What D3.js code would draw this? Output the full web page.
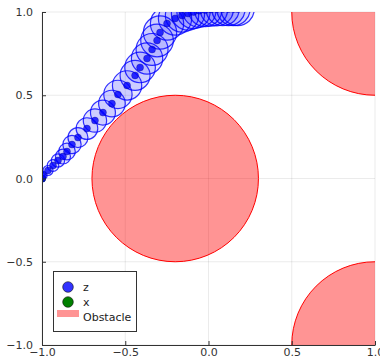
<!DOCTYPE html>
<html>
<head>
<meta charset="utf-8">
<script src="https://cdn.jsdelivr.net/npm/d3@7"></script>
<style>
  body { margin: 0; background: #fff; }
  svg { display: block; font-family: "DejaVu Sans", sans-serif; }
</style>
</head>
<body>
<svg id="chart" width="380" height="361"></svg>
<script>
// trajectory z (estimated), with uncertainty radius
const zX = [-1.0, -0.994, -0.964, -0.934, -0.904, -0.874, -0.850, -0.820, -0.784, -0.730, -0.682, -0.634, -0.580,
  -0.544, -0.489, -0.441, -0.411, -0.369, -0.339, -0.309, -0.291, -0.249, -0.201, -0.159, -0.123,
  -0.090, -0.055, -0.020, 0.015, 0.050, 0.085, 0.120, 0.150, 0.175];
const zY = [0.0, 0.018, 0.048, 0.078, 0.108, 0.132, 0.162, 0.204, 0.246, 0.300, 0.348, 0.396, 0.450,
  0.505, 0.559, 0.619, 0.667, 0.721, 0.775, 0.829, 0.877, 0.931, 0.961, 0.979, 0.991,
  1.000, 1.008, 1.012, 1.015, 1.017, 1.018, 1.018, 1.018, 1.018];
const zR = [0.02, 0.025, 0.03, 0.035, 0.04, 0.045, 0.05, 0.055, 0.06, 0.065, 0.07, 0.075, 0.08,
  0.085, 0.088, 0.09, 0.092, 0.094, 0.096, 0.098, 0.1, 0.1, 0.1, 0.1, 0.1,
  0.1, 0.1, 0.1, 0.1, 0.1, 0.1, 0.1, 0.1, 0.1];

// true state x
const xX = [-1.0];
const xY = [0.0];

// obstacles
const obsX = [-0.2, 1.0, 1.0];
const obsY = [0.0, 1.0, -1.0];
const obsR = [0.5, 0.5, 0.5];

const ticks = [-1.0, -0.5, 0.0, 0.5, 1.0];
const legendLabels = ['z', 'x', 'Obstacle'];

const svg = d3.select('#chart');
const m = { left: 42, right: 375, top: 12, bottom: 345 };
const x = d3.scaleLinear().domain([-1, 1]).range([m.left, m.right]);
const y = d3.scaleLinear().domain([-1, 1]).range([m.bottom, m.top]);
const fmt = d => d3.format('.1f')(d).replace('-', '\u2212');

svg.append('defs').append('clipPath').attr('id', 'clip')
  .append('rect').attr('x', m.left).attr('y', m.top)
  .attr('width', m.right - m.left).attr('height', m.bottom - m.top);

// grid
const grid = svg.append('g');
grid.selectAll('line.gx').data(ticks).join('line')
  .attr('x1', d => x(d)).attr('x2', d => x(d)).attr('y1', m.top).attr('y2', m.bottom)
  .attr('stroke', '#000').attr('stroke-opacity', 0.08);
grid.selectAll('line.gy').data(ticks).join('line')
  .attr('y1', d => y(d)).attr('y2', d => y(d)).attr('x1', m.left).attr('x2', m.right)
  .attr('stroke', '#000').attr('stroke-opacity', 0.08);

const plot = svg.append('g').attr('clip-path', 'url(#clip)');

// uncertainty circles
const pts = zX.map((v, i) => ({ x: v, y: zY[i], r: zR[i] }));
plot.append('g').selectAll('circle').data(pts).join('circle')
  .attr('cx', d => x(d.x)).attr('cy', d => y(d.y))
  .attr('r', d => x(d.r) - x(0))
  .attr('fill', 'rgba(0,0,255,0.1)')
  .attr('stroke', 'rgba(0,0,255,0.8)').attr('stroke-width', 1.2);

// x markers
plot.append('g').selectAll('circle').data(xX.map((v, i) => ({ x: v, y: xY[i] }))).join('circle')
  .attr('cx', d => x(d.x)).attr('cy', d => y(d.y)).attr('r', 3.5)
  .attr('fill', '#008000').attr('stroke', '#003000').attr('stroke-width', 0.5);

// z markers
plot.append('g').selectAll('circle').data(pts).join('circle')
  .attr('cx', d => x(d.x)).attr('cy', d => y(d.y)).attr('r', 3.5)
  .attr('fill', 'rgba(0,0,255,0.8)').attr('stroke', 'rgba(0,0,120,0.6)').attr('stroke-width', 0.5);

// obstacles
plot.append('g').selectAll('circle').data(obsX.map((v, i) => ({ x: v, y: obsY[i], r: obsR[i] }))).join('circle')
  .attr('cx', d => x(d.x)).attr('cy', d => y(d.y))
  .attr('r', d => x(d.r) - x(0))
  .attr('fill', 'rgba(255,0,0,0.42)')
  .attr('stroke', '#ff0000').attr('stroke-width', 1);

// axes
const axisColor = '#333';
const ax = svg.append('g').attr('transform', `translate(0,${m.bottom})`)
  .call(d3.axisBottom(x).tickValues(ticks).tickFormat(fmt).tickSizeInner(-4).tickSizeOuter(0).tickPadding(3));
const ay = svg.append('g').attr('transform', `translate(${m.left},0)`)
  .call(d3.axisLeft(y).tickValues(ticks).tickFormat(fmt).tickSizeInner(-4).tickSizeOuter(0).tickPadding(9));
[ax, ay].forEach(g => {
  g.select('.domain').attr('stroke', axisColor);
  g.selectAll('.tick line').attr('stroke', axisColor);
  g.selectAll('text').attr('fill', '#333').style('font-size', '11px').style('font-family', '"DejaVu Sans", sans-serif');
});

// legend
const lg = svg.append('g');
lg.append('rect').attr('x', 53.5).attr('y', 271.5).attr('width', 83).attr('height', 60)
  .attr('fill', '#fff').attr('stroke', '#333').attr('stroke-width', 1);
lg.append('circle').attr('cx', 68).attr('cy', 287).attr('r', 5.3)
  .attr('fill', 'rgba(0,0,255,0.8)').attr('stroke', '#111').attr('stroke-width', 0.6);
lg.append('circle').attr('cx', 68).attr('cy', 302).attr('r', 5.3)
  .attr('fill', '#008000').attr('stroke', '#111').attr('stroke-width', 0.6);
lg.append('rect').attr('x', 57).attr('y', 310).attr('width', 22).attr('height', 7)
  .attr('fill', 'rgba(255,0,0,0.42)');
lg.selectAll('text').data(legendLabels).join('text')
  .attr('x', 83).attr('y', (d, i) => 287 + i * 15).attr('dy', '0.35em')
  .attr('fill', '#222').style('font-size', '11px').text(d => d);
</script>
</body>
</html>
